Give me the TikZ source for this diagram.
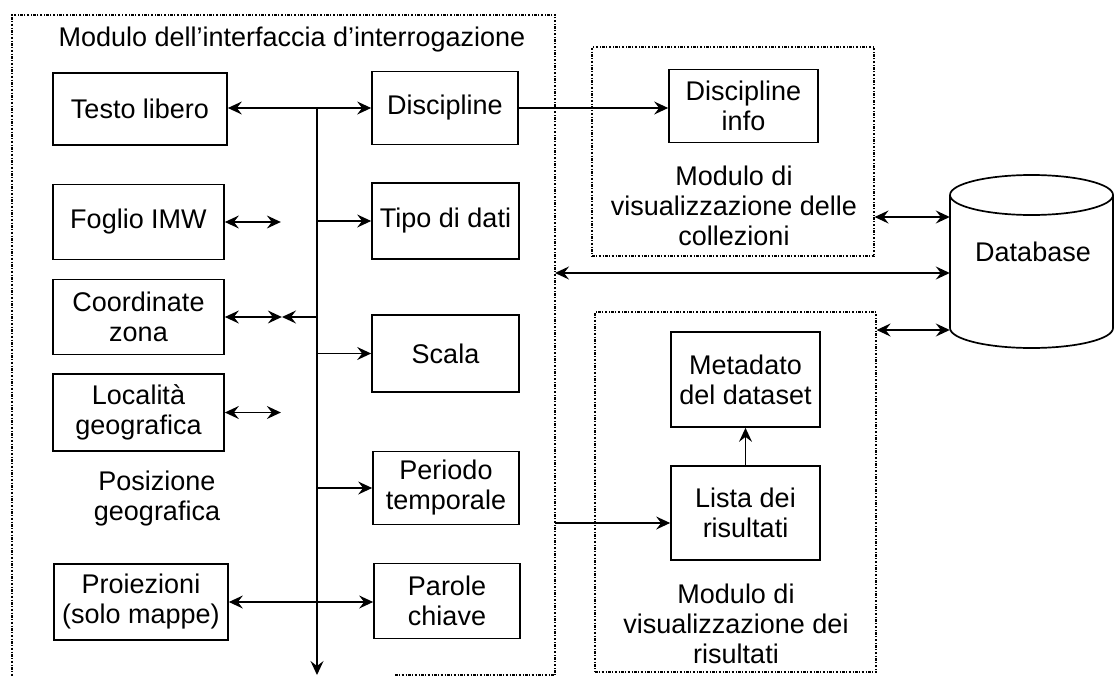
\documentclass[tikz,border=0pt]{standalone}
\usepackage{fontspec}
\setmainfont{Liberation Sans}
\usetikzlibrary{arrows.meta}
\begin{document}
\begin{tikzpicture}[x=1pt,y=-1pt,
  box/.style={draw, line width=1.7pt, align=center, inner sep=1pt, font=\fontsize{27}{30}\selectfont},
  lbl/.style={align=center, inner sep=0pt, font=\fontsize{27}{30}\selectfont},
  modbox/.style={draw, line width=1.1pt, dash pattern=on 2.5pt off 1.5pt on 1pt off 1.5pt},
  conn/.style={line width=1.4pt, >={Stealth[length=14pt,width=13pt,inset=5pt]}},
]
\useasboundingbox (0,0) rectangle (1115,677);

% outer module (interrogation interface)
\draw[modbox] (395,675) -- (555,675) -- (555,15) -- (12,15) -- (12,677);
\coordinate (outerA) at (555,273);
\coordinate (outerB) at (555,523);
\node[lbl] (title) at (292,40) {Modulo dell’interfaccia d’interrogazione};

% left column
\node[box, minimum width=174pt, minimum height=72pt] (testo) at (140,109) {Testo libero};
\node[box, minimum width=171pt, minimum height=75pt] (foglio) at (138.5,222) {Foglio IMW};
\node[box, minimum width=171pt, minimum height=75pt] (coord) at (138.5,317) {Coordinate\\zona};
\node[box, minimum width=171pt, minimum height=77pt] (local) at (138.5,412.5) {Località\\geografica};
\node[lbl] (posiz) at (157,499) {Posizione\\geografica};
\node[box, minimum width=174pt, minimum height=76pt] (proiez) at (141,602) {Proiezioni\\(solo mappe)};

% right column
\node[box, minimum width=146pt, minimum height=73pt] (discip) at (445,108) {Discipline};
\node[box, minimum width=147pt, minimum height=76pt] (tipo) at (445.5,221) {Tipo di dati};
\node[box, minimum width=147pt, minimum height=77pt] (scala) at (445.5,353.5) {Scala};
\node[box, minimum width=146pt, minimum height=73pt] (periodo) at (446,488) {Periodo\\temporale};
\node[box, minimum width=146pt, minimum height=75pt] (parole) at (447,601) {Parole\\chiave};

% collections module
\node[modbox, minimum width=282pt, minimum height=209pt] (collbox) at (733,151.5) {};
\node[box, minimum width=149pt, minimum height=73pt] (dinfo) at (743.5,106) {Discipline\\info};
\node[lbl] (colllbl) at (734,206) {Modulo di\\visualizzazione delle\\collezioni};

% results module
\node[modbox, minimum width=281pt, minimum height=360pt] (resbox) at (735.5,492) {};
\node[box, minimum width=149pt, minimum height=95pt] (metadato) at (745.5,379.5) {Metadato\\del dataset};
\node[box, minimum width=149pt, minimum height=94pt] (lista) at (745.5,513) {Lista dei\\risultati};
\node[lbl] (reslbl) at (736,624) {Modulo di\\visualizzazione dei\\risultati};

% database cylinder
\node[minimum width=163pt, minimum height=173pt, inner sep=0pt] (db) at (1031.5,261.5) {};
\draw[line width=1.7pt] (950,195) -- (950,328)
  arc[start angle=180, end angle=360, x radius=81.5pt, y radius=20pt]
  -- (1113,195)
  arc[start angle=0, end angle=180, x radius=81.5pt, y radius=20pt];
\draw[line width=1.7pt] (950,195) arc[start angle=180, end angle=360, x radius=81.5pt, y radius=20pt];
\node[lbl] (dbt) at (1033,252) {Database};

% bus
\coordinate (bustop) at (317,108);
\coordinate (busbot) at (317,675);
\draw[conn,->] (bustop) -- (busbot);

% connectors, left part
\draw[conn,<->] (testo.east |- bustop) -- (discip.west |- bustop);
\draw[conn,<->] (foglio.east) -- ++(56,0);
\draw[conn,->] (bustop |- tipo.west) -- (tipo.west);
\draw[conn,<->] (coord.east) -- ++(57,0);
\draw[conn,->] (bustop |- coord.east) -- ++(-35,0);
\draw[conn,->] (bustop |- scala.west) -- (scala.west);
\draw[conn,<->] (local.east) -- ++(56,0);
\draw[conn,->] (bustop |- periodo.west) -- (periodo.west);
\draw[conn,<->] (proiez.east) -- (parole.west |- proiez.east);

% connectors, right part
\draw[conn,->] (discip.east) -- (dinfo.west |- discip.east);
\draw[conn,<->] (collbox.east |- 0,217) -- (db.west |- 0,217);
\draw[conn,<->] (outerA) -- (db.west |- outerA);
\draw[conn,<->] (resbox.east |- 0,330) -- (db.west |- 0,330);
\draw[conn,->] (outerB) -- (lista.west |- outerB);
\draw[conn,->] (lista.north) -- (metadato.south);
\end{tikzpicture}
\end{document}
